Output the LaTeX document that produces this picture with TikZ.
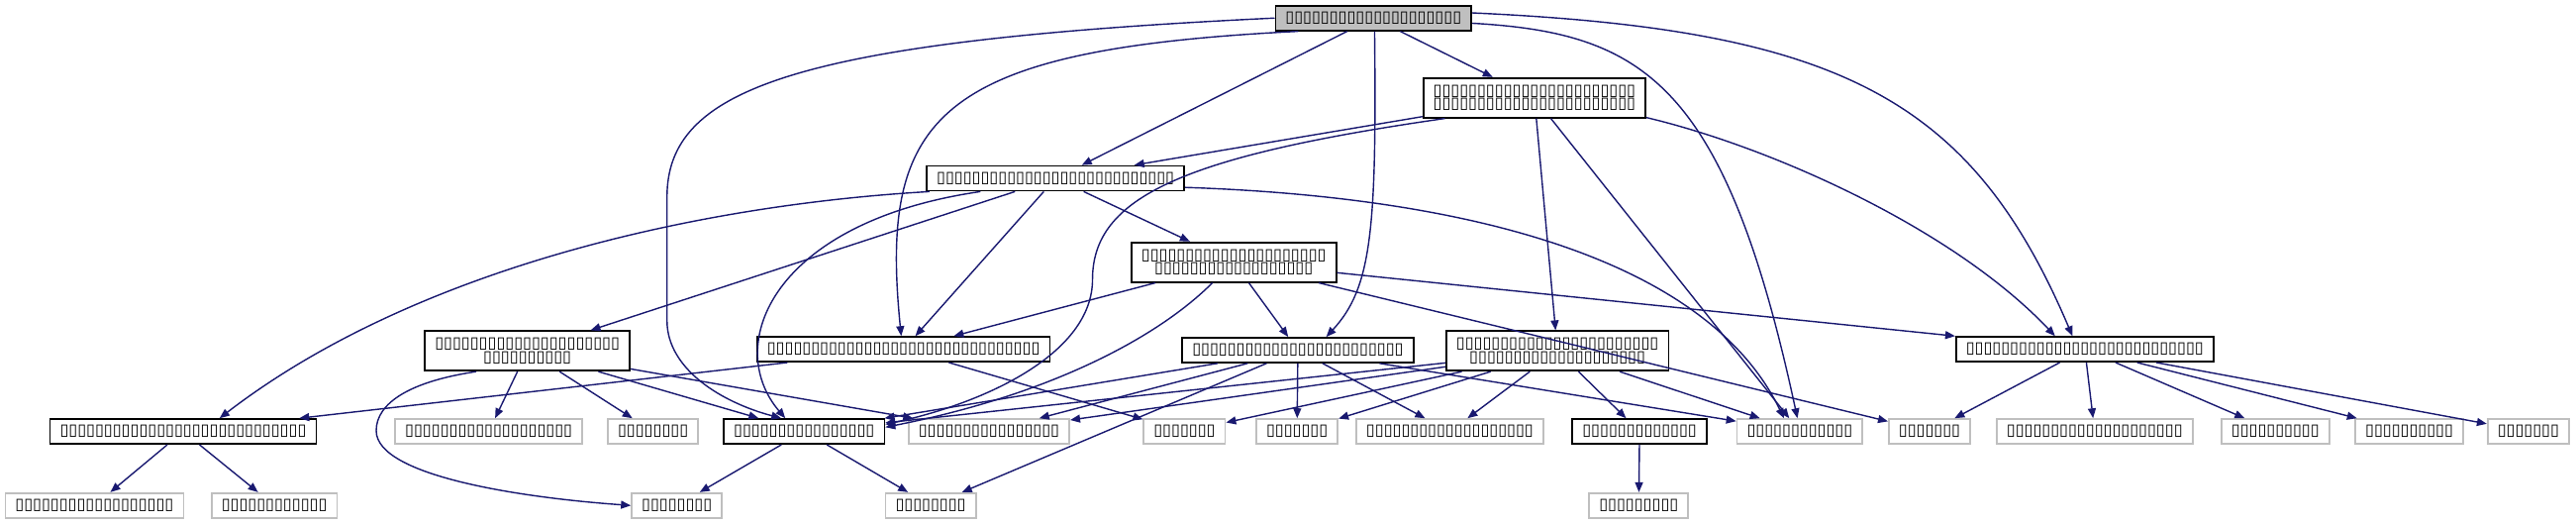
\documentclass[tikz,border=0pt]{standalone}
\usepackage{fontspec}
\usepackage{tikz}
\usetikzlibrary{arrows.meta}
\newfontfamily\boxfont{DejaVu Sans}
\definecolor{edgeblue}{RGB}{25,25,112}
\definecolor{sysgray}{RGB}{191,191,191}
\tikzset{
  graph/.style={x=0.016594cm,y=-0.016594cm,>={Triangle[length=1mm,width=0.8mm]}},
  file/.style={draw=black,line width=0.5pt,fill=white,align=center,inner xsep=0.1cm,inner ysep=0pt,minimum height=0.25cm,font=\fontsize{4.6}{3.8}\selectfont\boxfont},
  pair/.style={file,minimum height=0.40cm},
  current/.style={file,fill=sysgray},
  sys/.style={file,draw=sysgray},
  dep/.style={->,draw=edgeblue,line width=0.4pt},
}
\begin{document}
\begin{tikzpicture}[graph]
\useasboundingbox (0,0) rectangle (1568,318.8);
% included files, top to bottom
\node[current] (root) at (836,11) {▯▯▯▯▯▯▯▯▯▯▯▯▯▯▯▯▯▯▯▯};
\node[pair] (hA) at (934,59.5) {▯▯▯▯▯▯▯▯▯▯▯▯▯▯▯▯▯▯▯▯▯▯▯\\▯▯▯▯▯▯▯▯▯▯▯▯▯▯▯▯▯▯▯▯▯▯▯};
\node[file] (hB) at (642.5,108.5) {▯▯▯▯▯▯▯▯▯▯▯▯▯▯▯▯▯▯▯▯▯▯▯▯▯▯▯};
\node[pair] (hC) at (751,159.5) {▯▯▯▯▯▯▯▯▯▯▯▯▯▯▯▯▯▯▯▯▯\\▯▯▯▯▯▯▯▯▯▯▯▯▯▯▯▯▯▯};
\node[file] (hD) at (550,212.5) {▯▯▯▯▯▯▯▯▯▯▯▯▯▯▯▯▯▯▯▯▯▯▯▯▯▯▯▯▯▯▯};
\node[file] (hE) at (790,213) {▯▯▯▯▯▯▯▯▯▯▯▯▯▯▯▯▯▯▯▯▯▯▯▯};
\node[pair] (hF) at (948,213.5) {▯▯▯▯▯▯▯▯▯▯▯▯▯▯▯▯▯▯▯▯▯▯▯\\▯▯▯▯▯▯▯▯▯▯▯▯▯▯▯▯▯▯▯▯};
\node[pair] (hG) at (321,213.5) {▯▯▯▯▯▯▯▯▯▯▯▯▯▯▯▯▯▯▯▯▯\\▯▯▯▯▯▯▯▯▯▯};
\node[file] (hH) at (1269,212.5) {▯▯▯▯▯▯▯▯▯▯▯▯▯▯▯▯▯▯▯▯▯▯▯▯▯▯▯};
\node[file] (hI) at (111.5,262.5) {▯▯▯▯▯▯▯▯▯▯▯▯▯▯▯▯▯▯▯▯▯▯▯▯▯▯▯▯};
\node[file] (hJ) at (489.5,262.5) {▯▯▯▯▯▯▯▯▯▯▯▯▯▯▯▯};
\node[file] (hK) at (998,262.5) {▯▯▯▯▯▯▯▯▯▯▯▯▯};
% system headers
\node[sys] (s1) at (297.5,262.5) {▯▯▯▯▯▯▯▯▯▯▯▯▯▯▯▯▯▯▯};
\node[sys] (s2) at (397.5,262.5) {▯▯▯▯▯▯▯▯};
\node[sys] (s3) at (602,262.5) {▯▯▯▯▯▯▯▯▯▯▯▯▯▯▯▯};
\node[sys] (s4) at (721,262.5) {▯▯▯▯▯▯▯};
\node[sys] (s5) at (789.5,262.5) {▯▯▯▯▯▯▯};
\node[sys] (s6) at (882.5,262.5) {▯▯▯▯▯▯▯▯▯▯▯▯▯▯▯▯▯▯▯};
\node[sys] (s7) at (1095.5,262.5) {▯▯▯▯▯▯▯▯▯▯▯▯};
\node[sys] (s8) at (1174.5,262.5) {▯▯▯▯▯▯▯};
\node[sys] (s9) at (1275,262.5) {▯▯▯▯▯▯▯▯▯▯▯▯▯▯▯▯▯▯▯▯};
\node[sys] (s10) at (1385,262.5) {▯▯▯▯▯▯▯▯▯▯};
\node[sys] (s11) at (1466.5,262.5) {▯▯▯▯▯▯▯▯▯▯};
\node[sys] (s12) at (1539,262.5) {▯▯▯▯▯▯▯};
\node[sys] (t1) at (57.5,307.5) {▯▯▯▯▯▯▯▯▯▯▯▯▯▯▯▯▯▯};
\node[sys] (t2) at (167,307.5) {▯▯▯▯▯▯▯▯▯▯▯▯};
\node[sys] (t3) at (412,307.5) {▯▯▯▯▯▯▯▯};
\node[sys] (t4) at (566.5,307.5) {▯▯▯▯▯▯▯▯};
\node[sys] (t5) at (997.5,307.5) {▯▯▯▯▯▯▯▯▯};
% straight includes
\foreach \a/\b in {root/hA,root/hB,hA/hB,hA/hF,hA/s7,hB/hC,hB/hD,hB/hG,
  hC/hD,hC/hE,hC/hH,hC/s8,hD/hI,hD/s4,hE/hJ,hE/s3,hE/s5,hE/s6,hE/t4,hE/s7,
  hF/hJ,hF/s3,hF/s4,hF/s5,hF/s6,hF/hK,hF/s7,hG/s1,hG/s2,hG/hJ,hG/s3,
  hH/s8,hH/s9,hH/s10,hH/s11,hH/s12,hI/t1,hI/t2,hJ/t3,hJ/t4,hK/t5}
  \draw[dep] (\a) -- (\b);
% routed includes
\draw[dep] (root.190) .. controls (570,30) and (535,70) .. (hD.100);
\draw[dep] (root.west) .. controls (480,25) and (406,55) .. (406,120) -- (406,195) .. controls (406,225) and (440,245) .. (hJ.150);
\draw[dep] (root.-85) .. controls (838,140) and (835,175) .. (hE.25);
\draw[dep] (root.-3) .. controls (1000,20) and (1050,50) .. (s7.100);
\draw[dep] (root.3) .. controls (1120,18) and (1200,60) .. (hH.133);
\draw[dep] (hA.193) .. controls (720,95) and (665,120) .. (665,170) .. controls (665,215) and (600,245) .. (hJ.5);
\draw[dep] (hA.-10) .. controls (1080,90) and (1190,140) .. (hH.156);
\draw[dep] (hB.190) .. controls (470,135) and (440,210) .. (hJ.145);
\draw[dep] (hB.186) .. controls (420,125) and (250,165) .. (hI.20);
\draw[dep] (hB.-4) .. controls (900,120) and (1040,160) .. (s7.140);
\draw[dep] (hC.224) .. controls (705,205) and (640,240) .. (hJ.3);
\draw[dep] (hG.202) .. controls (250,232) and (229,245) .. (229,262) .. controls (229,290) and (320,303) .. (t3.west);
\end{tikzpicture}
\end{document}
